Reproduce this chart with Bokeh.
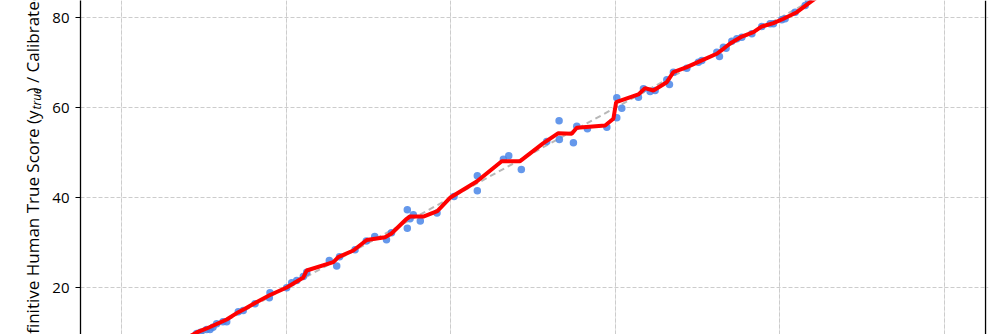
import math
from bokeh.plotting import figure
from bokeh.layouts import row
from bokeh.models import Range1d, FixedTicker, Grid, Span, Label
from bokeh.embed import file_html
from bokeh.resources import INLINE

# Blue points: (human true score, calibrated score)
pts_x = [9.12, 9.60, 10.33, 10.74, 11.10, 11.55, 12.32, 12.77, 14.18, 14.78,
         16.21, 17.95, 18.03, 20.06, 20.67, 21.28, 22.08, 22.49, 25.24, 26.14,
         26.48, 28.37, 29.74, 30.76, 32.19, 32.80, 34.72, 34.72, 35.05, 35.45,
         36.30, 38.33, 40.40, 43.23, 43.23, 46.40, 47.05, 48.58, 51.67, 53.17,
         53.20, 54.91, 55.32, 56.61, 58.97, 60.18, 60.18, 60.79, 62.81, 63.42,
         64.23, 64.84, 66.26, 66.58, 67.06, 68.69, 70.10, 70.52, 72.34, 72.66,
         73.14, 73.47, 74.16, 74.77, 75.38, 76.60, 77.81, 78.82, 79.22, 80.24,
         80.64, 81.86, 83.08, 83.48]
pts_y = [9.84, 10.13, 10.73, 10.73, 11.24, 12.00, 12.44, 12.44, 14.67, 14.96,
         16.44, 17.78, 18.89, 20.00, 21.11, 21.62, 22.51, 23.47, 26.07, 24.84,
         26.89, 28.44, 30.40, 31.40, 30.67, 32.24, 37.33, 33.22, 35.33, 36.24,
         34.84, 36.62, 40.29, 44.89, 41.56, 48.58, 49.33, 46.29, 52.51, 57.11,
         52.96, 52.22, 55.91, 55.33, 55.69, 57.78, 62.22, 59.91, 62.36, 64.22,
         63.62, 63.84, 66.22, 65.18, 67.91, 68.80, 70.13, 70.51, 72.36, 71.40,
         73.47, 73.24, 74.80, 75.33, 75.69, 76.44, 78.07, 78.67, 78.67, 79.56,
         79.78, 81.24, 82.73, 83.84]

# Red calibration curve
cal_x = [7.82, 9.12, 10.33, 11.55, 12.77, 14.18, 14.99, 16.21, 18.03, 20.06,
         21.28, 22.08, 22.49, 25.73, 26.33, 28.16, 29.79, 32.01, 32.80, 34.65,
         35.05, 36.67, 38.37, 39.91, 43.16, 46.20, 48.43, 51.26, 53.08, 54.71,
         55.32, 58.76, 59.77, 60.10, 62.81, 63.62, 64.63, 66.26, 67.06, 68.69,
         70.31, 72.34, 73.14, 73.96, 75.38, 76.79, 77.81, 79.22, 80.44, 82.07,
         83.69, 84.66]
cal_y = [8.73, 10.07, 10.96, 11.96, 12.96, 14.58, 15.33, 16.62, 18.40, 20.07,
         21.40, 22.29, 23.84, 25.69, 26.80, 28.29, 30.62, 31.24, 32.07, 35.33,
         35.84, 35.84, 37.02, 40.00, 43.62, 48.13, 48.13, 52.13, 54.36, 54.22,
         55.56, 56.07, 57.56, 61.24, 62.96, 64.36, 63.84, 65.69, 67.91, 69.02,
         70.36, 72.00, 73.11, 74.29, 75.84, 76.80, 78.07, 78.80, 79.78, 81.24,
         83.47, 84.73]

diag_x = [0, 100]
diag_y = [0, 100]
tick_vals = [0, 20, 40, 60, 80, 100]

label_main = "Definitive Human True Score (y"
label_sub = "true"
label_rest = ") / Calibrated Score"

FONT = "Open Sans"
H = 334
LEFT_W = 44

# Narrow panel holding the rotated y-axis title
lp = figure(width=LEFT_W, height=H, output_backend="svg", toolbar_location=None,
            x_axis_location=None, y_axis_location=None,
            x_range=Range1d(0, LEFT_W), y_range=Range1d(H, 0),
            min_border=0)
lp.outline_line_color = None
lp.xgrid.visible = False
lp.ygrid.visible = False
lp.add_layout(Label(x=32, y=110, angle=math.pi / 2, text=label_main, text_font=FONT,
                    text_font_size="17px", text_align="right", text_baseline="alphabetic",
                    text_color="black"))
lp.add_layout(Label(x=36, y=109, angle=math.pi / 2, text=label_sub, text_font=FONT,
                    text_font_size="12px", text_font_style="italic", text_align="left",
                    text_baseline="alphabetic", text_color="black"))
lp.add_layout(Label(x=32, y=92, angle=math.pi / 2, text=label_rest, text_font=FONT,
                    text_font_size="17px", text_align="left", text_baseline="alphabetic",
                    text_color="black"))

p = figure(width=1000 - LEFT_W, height=H, output_backend="svg", toolbar_location=None,
           x_axis_location=None, x_range=Range1d(-5, 105.36), y_range=Range1d(9.62, 83.84),
           min_border_left=80 - LEFT_W, min_border_right=12, min_border_top=0, min_border_bottom=0)
p.outline_line_color = None

p.yaxis.ticker = FixedTicker(ticks=tick_vals)
p.yaxis.minor_tick_line_color = None
p.yaxis.major_tick_out = 5
p.yaxis.major_tick_in = 0
p.yaxis.major_label_standoff = 6
p.yaxis.axis_line_color = "black"
p.yaxis.axis_line_width = 1.3
p.yaxis.major_tick_line_color = "black"
p.yaxis.major_label_text_font = FONT
p.yaxis.major_label_text_font_size = "15px"
p.yaxis.major_label_text_color = "black"

p.ygrid.grid_line_color = "#cccccc"
p.ygrid.grid_line_dash = "4 2"
p.ygrid.grid_line_width = 1
p.add_layout(Grid(dimension=0, ticker=FixedTicker(ticks=tick_vals),
                  grid_line_color="#cccccc", grid_line_dash="4 2", grid_line_width=1))

p.line(diag_x, diag_y, line_color="#b8b8b8", line_width=2, line_dash="6 4")
p.scatter(pts_x, pts_y, size=7.5, fill_color="#4a86e8", fill_alpha=0.85, line_color=None)
p.line(cal_x, cal_y, line_color="#ff0000", line_width=4)

p.add_layout(Span(location=105, dimension="height", line_color="black", line_width=1.3))

layout = row(lp, p, spacing=0)
open("out.html", "w").write(file_html(layout, INLINE))
